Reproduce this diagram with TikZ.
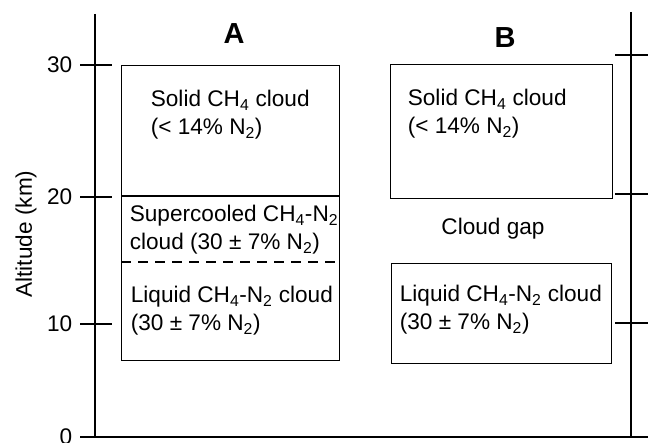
\documentclass[tikz,border=0pt]{standalone}
\usepackage{fontspec}
\setmainfont{Liberation Sans}
\begin{document}
\begin{tikzpicture}[x=1pt,y=-1pt,
  line width=1.7pt,
  every node/.style={font=\fontsize{22.6}{28}\selectfont, inner sep=0pt},
  lbl/.style={anchor=base west, align=left},
  ticklbl/.style={anchor=east},
  cloudbox/.style={draw, line width=1.4pt},
  head/.style={font=\fontsize{29}{32}\selectfont\bfseries}]
\useasboundingbox (0,0) rectangle (648,443);
% left axis
\coordinate (ltop) at (95,14);
\coordinate (lbot) at (95,437);
\draw (ltop) -- (lbot);
\foreach \n/\y in {30/65,20/197,10/324,0/437}{
  \coordinate (lt\n a) at (80,\y);
  \coordinate (lt\n b) at (112,\y);
  \draw (lt\n a) -- (lt\n b);
  \node[ticklbl] (tl\n) at (73,\y) {\n};
}
% bottom axis
\coordinate (bl) at (80,437);
\coordinate (br) at (648,437);
\draw (bl) -- (br);
% right axis
\coordinate (rtop) at (631,12);
\coordinate (rbot) at (631,437);
\draw (rtop) -- (rbot);
\foreach \n/\y in {30/55,20/194,10/323}{
  \coordinate (rt\n a) at (615,\y);
  \coordinate (rt\n b) at (648,\y);
  \draw (rt\n a) -- (rt\n b);
}
% axis label
\node[rotate=90] (ylab) at (26,234) {Altitude (km)};
% headings
\node[head] (hA) at (234,34) {A};
\node[head] (hB) at (505,38) {B};
% column A
\node[cloudbox, minimum width=218pt, minimum height=295pt, anchor=north west] (boxA) at (121,65) {};
\coordinate (sA1) at (121,196);
\coordinate (sA2) at (339,196);
\draw[line width=1.4pt] (sA1) -- (sA2);
\coordinate (dA1) at (121,262);
\coordinate (dA2) at (339,262);
\draw[line width=1.4pt, dash pattern=on 10pt off 7pt] (dA1) -- (dA2);
\node[lbl] (solidA) at (150,135) {Solid CH\textsubscript{4} cloud\\(< 14\% N\textsubscript{2})};
\node[lbl] (superA) at (129,250) {Supercooled CH\textsubscript{4}-N\textsubscript{2}\\cloud (30 ± 7\% N\textsubscript{2})};
\node[lbl] (liqA) at (130,331) {Liquid CH\textsubscript{4}-N\textsubscript{2} cloud\\(30 ± 7\% N\textsubscript{2})};
% column B
\node[cloudbox, minimum width=222pt, minimum height=134pt, anchor=north west] (boxB1) at (390,64) {};
\node[cloudbox, minimum width=220pt, minimum height=100pt, anchor=north west] (boxB2) at (391,263) {};
\node[lbl] (solidB) at (407,134) {Solid CH\textsubscript{4} cloud\\(< 14\% N\textsubscript{2})};
\node[anchor=base] (gap) at (493,235) {Cloud gap};
\node[lbl] (liqB) at (399,330) {Liquid CH\textsubscript{4}-N\textsubscript{2} cloud\\(30 ± 7\% N\textsubscript{2})};
\end{tikzpicture}
\end{document}
